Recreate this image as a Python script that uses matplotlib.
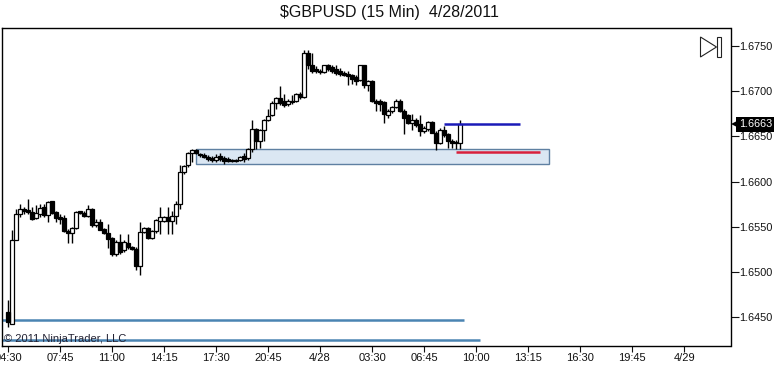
import numpy as np
import matplotlib
matplotlib.use('Agg')
import matplotlib.pyplot as plt
from matplotlib.patches import Rectangle, Polygon

plt.rcParams['font.family'] = ['Liberation Sans', 'DejaVu Sans']

# 15 min bars, prices as 1.xxxx with the leading 1 dropped
opens = [6456, 6443, 6535, 6564, 6570, 6569, 6566, 6560, 6564, 6572,
         6563, 6578, 6566, 6561, 6560, 6545, 6543, 6549, 6567, 6565,
         6562, 6570, 6552, 6555, 6548, 6543, 6538, 6520, 6533, 6524,
         6532, 6528, 6526, 6507, 6544, 6549, 6538, 6545, 6556, 6556,
         6561, 6556, 6562, 6575, 6610, 6618, 6631, 6635, 6630, 6629,
         6627, 6626, 6624, 6628, 6626, 6625, 6624, 6623, 6624, 6628,
         6626, 6636, 6658, 6645, 6657, 6668, 6673, 6687, 6692, 6689,
         6685, 6689, 6689, 6697, 6693, 6742, 6729, 6724, 6722, 6721,
         6728, 6726, 6724, 6722, 6720, 6719, 6717, 6715, 6712, 6728,
         6706, 6711, 6689, 6689, 6688, 6673, 6678, 6682, 6689, 6678,
         6673, 6664, 6668, 6663, 6656, 6658, 6666, 6654, 6642, 6657,
         6652, 6645, 6644, 6642]
highs = [6469, 6547, 6570, 6575, 6572, 6581, 6572, 6574, 6575, 6575,
         6579, 6579, 6567, 6564, 6563, 6548, 6550, 6567, 6568, 6568,
         6574, 6571, 6559, 6559, 6549, 6553, 6539, 6535, 6542, 6536,
         6542, 6529, 6528, 6555, 6550, 6550, 6547, 6559, 6572, 6562,
         6572, 6568, 6579, 6618, 6618, 6633, 6636, 6636, 6632, 6631,
         6629, 6628, 6630, 6632, 6628, 6627, 6625, 6625, 6628, 6631,
         6637, 6668, 6659, 6658, 6669, 6680, 6689, 6693, 6705, 6697,
         6691, 6695, 6698, 6699, 6745, 6745, 6742, 6727, 6724, 6729,
         6730, 6729, 6728, 6725, 6722, 6722, 6719, 6717, 6729, 6729,
         6712, 6712, 6691, 6691, 6689, 6680, 6683, 6691, 6691, 6680,
         6675, 6675, 6670, 6673, 6661, 6667, 6667, 6656, 6659, 6661,
         6654, 6647, 6646, 6668]
lows = [6439, 6443, 6535, 6561, 6564, 6564, 6558, 6559, 6561, 6561,
        6555, 6564, 6555, 6553, 6544, 6532, 6532, 6548, 6564, 6561,
        6561, 6550, 6550, 6546, 6542, 6527, 6518, 6518, 6520, 6522,
        6526, 6524, 6502, 6497, 6543, 6537, 6537, 6543, 6542, 6555,
        6542, 6542, 6553, 6570, 6608, 6616, 6621, 6630, 6627, 6626,
        6623, 6621, 6622, 6623, 6619, 6621, 6622, 6622, 6623, 6622,
        6624, 6633, 6636, 6637, 6645, 6667, 6672, 6680, 6684, 6682,
        6683, 6686, 6688, 6691, 6692, 6724, 6720, 6720, 6719, 6720,
        6722, 6720, 6717, 6716, 6716, 6706, 6708, 6706, 6711, 6703,
        6700, 6688, 6678, 6678, 6665, 6670, 6676, 6681, 6677, 6652,
        6663, 6657, 6660, 6650, 6654, 6656, 6653, 6635, 6641, 6649,
        6637, 6637, 6636, 6636]
closes = [6445, 6535, 6564, 6570, 6567, 6566, 6559, 6565, 6571, 6563,
          6577, 6565, 6560, 6559, 6545, 6543, 6549, 6566, 6565, 6562,
          6570, 6552, 6555, 6547, 6543, 6537, 6520, 6533, 6522, 6533,
          6528, 6526, 6507, 6544, 6549, 6538, 6545, 6558, 6561, 6561,
          6556, 6562, 6575, 6610, 6617, 6631, 6635, 6631, 6629, 6627,
          6625, 6624, 6627, 6625, 6623, 6623, 6623, 6624, 6627, 6625,
          6636, 6658, 6645, 6657, 6668, 6672, 6687, 6692, 6687, 6684,
          6689, 6688, 6697, 6693, 6742, 6728, 6722, 6722, 6721, 6728,
          6724, 6722, 6720, 6719, 6718, 6716, 6713, 6711, 6728, 6706,
          6711, 6689, 6687, 6686, 6674, 6678, 6682, 6689, 6678, 6670,
          6665, 6668, 6662, 6656, 6659, 6666, 6654, 6643, 6657, 6651,
          6645, 6642, 6642, 6663]

time_labels = ['04:30', '07:45', '11:00', '14:15', '17:30', '20:45', '4/28',
               '03:30', '06:45', '10:00', '13:15', '16:30', '19:45', '4/29']
price_ticks = [1.645, 1.650, 1.655, 1.660, 1.665, 1.670, 1.675]

# zone and drawn lines (start bar, end bar, price)
zone = (47, 135.25, 1.6619, 1.6636)
blue_line = (109, 128, 1.6663)
red_line = (112, 133, 1.66325)
low_line1 = (-1.75, 114, 1.6447)
low_line2 = (-1.75, 118, 1.6425)

o = np.array(opens) / 10000 + 1
h = np.array(highs) / 10000 + 1
l = np.array(lows) / 10000 + 1
c = np.array(closes) / 10000 + 1
x = np.arange(len(o))

W, H = 784, 391
fig = plt.figure(figsize=(W / 100, H / 100), dpi=100, facecolor='white')
ax = fig.add_axes([1.5 / W, 1 - 345.5 / H, 729 / W, 318 / H])
ax.set_xlim(-1.625, 180.6)
ax.set_ylim(1.64191, 1.67699)

ax.add_patch(Rectangle((zone[0], zone[2]), zone[1] - zone[0], zone[3] - zone[2],
                       facecolor='#dbe7f3', edgecolor='#5f80a2', lw=1.0, zorder=1))
ax.hlines(low_line1[2], low_line1[0], low_line1[1], color='#4a84b2', lw=1.8, zorder=1)
ax.hlines(low_line2[2], low_line2[0], low_line2[1], color='#4a84b2', lw=1.8, zorder=1)

ax.vlines(x, l, h, color='black', lw=1.0, zorder=2)
up = c >= o
ax.bar(x[up], (c - o)[up], bottom=o[up], width=0.9, facecolor='white',
       edgecolor='black', lw=0.9, zorder=3)
ax.bar(x[~up], (c - o)[~up], bottom=o[~up], width=0.9, facecolor='black',
       edgecolor='black', lw=0.9, zorder=3)

ax.hlines(blue_line[2], blue_line[0], blue_line[1], color='#1a1ab8', lw=1.8, zorder=4)
ax.hlines(red_line[2], red_line[0], red_line[1], color='#d8203c', lw=1.8, zorder=4)

ax.set_xticks(np.arange(len(time_labels)) * 13)
ax.set_xticklabels(time_labels)
ax.yaxis.tick_right()
ax.set_yticks(price_ticks)
ax.set_yticklabels(['%.4f' % p for p in price_ticks])
ax.tick_params(axis='x', length=4.5, width=0.8, pad=1, labelsize=8, colors='#111111')
ax.tick_params(axis='y', length=5.5, width=0.8, pad=0.5, labelsize=7.8, colors='#111111')
for s in ax.spines.values():
    s.set_linewidth(1.0)

fig.text(389 / W, 1 - 13 / H, '$GBPUSD (15 Min)  4/28/2011', ha='center', va='center',
         fontsize=11.5, color='#111111', parse_math=False)
ax.text(2 / 729, 1 - 312 / 318, '\u00a9 2011 NinjaTrader, LLC', transform=ax.transAxes,
        ha='left', va='center', fontsize=8, color='#222233', zorder=5)

# last price flag on the axis
last = c[-1]
ax.annotate('%.4f' % last, xy=(1, last), xycoords=ax.get_yaxis_transform(),
            xytext=(6, 0), textcoords='offset points', ha='left', va='center',
            fontsize=7.8, color='white', annotation_clip=False, zorder=6,
            bbox=dict(boxstyle='square,pad=0.22', fc='black', ec='black', lw=0))
ax.plot([1.0072], [last], marker='<', ms=7.5, color='black', mew=0,
        transform=ax.get_yaxis_transform(), clip_on=False, zorder=6)

# play/end icon in the corner
def px(a, b):
    return (a / W, 1 - b / H)

fig.add_artist(Polygon([px(700.5, 37), px(716.5, 47), px(700.5, 57)], closed=True, fill=False,
                       edgecolor='#222222', lw=0.8, transform=fig.transFigure))
fig.add_artist(Polygon([px(717, 37), px(721, 37), px(721, 57), px(717, 57)], closed=True, fill=False,
                       edgecolor='#222222', lw=0.8, transform=fig.transFigure))

fig.savefig('out.png', dpi=100)
